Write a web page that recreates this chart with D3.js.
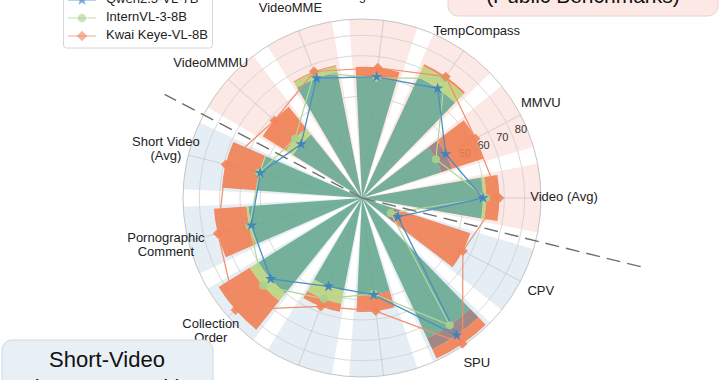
<!DOCTYPE html>
<html><head><meta charset="utf-8">
<script src="https://cdn.jsdelivr.net/npm/d3@7"></script>
<style>
body{margin:0;background:#fff;}
svg{display:block;font-family:"Liberation Sans",Arial,Helvetica,sans-serif;}
</style>
</head><body>
<svg id="c" width="720" height="380"></svg>
<script>
// ---- data ----
const categories = ["Video (Avg)", "CPV", "SPU", "High Like", "Hot Videos", "Collection\nOrder",
  "Pornographic\nComment", "Short Video\n(Avg)", "VideoMMMU", "VideoMME", "LongVideoBench", "TempCompass", "MMVU"];
const groups = ["public","short","short","short","short","short","short","short","public","public","public","public","public"];
const seriesNames = ["Qwen2.5-VL-7B", "InternVL-3-8B", "Kwai Keye-VL-8B"];
const qwen     = [59.5, 20, 82, 48, 46.5, 60, 56, 51.5, 40, 63, 60, 65.5, 46.5];
const internvl = [61,   16, 76, 47.5, 53, 65, 57, 52,   44, 66, 59.5, 71.5, 41];
const keye     = [67.5, 56, 87, 56,   57, 83, 73, 69,   57.5, 66.5, 64.5, 72.5, 63];
const radialTicks = [50, 60, 70, 80];
const groupTitles = ["(Public Benchmarks)", "Short-Video", "(KC-MMBench)"];

// ---- layout ----
const svg = d3.select("#c");
const cx = 362, cy = 198, R = 179;
const n = categories.length;
const step = 2 * Math.PI / n;
const angle = i => Math.PI / 2 + i * step;
const r = d3.scaleLinear().domain([0, 88]).range([0, R]);
const px = (a, rr) => rr * Math.sin(a);
const py = (a, rr) => -rr * Math.cos(a);

const g = svg.append("g").attr("transform", `translate(${cx},${cy})`);

// background wedges
const arc = d3.arc();
g.selectAll("path.bg").data(categories).join("path").attr("class", "bg")
  .attr("d", (d, i) => arc({innerRadius: 0, outerRadius: R, startAngle: angle(i) - 0.4 * step, endAngle: angle(i) + 0.4 * step}))
  .attr("fill", (d, i) => groups[i] === "public" ? "#fce8e4" : "#e6eef5");

// grid circles
g.selectAll("circle.grid").data(radialTicks).join("circle").attr("class", "grid")
  .attr("r", d => r(d)).attr("fill", "none").attr("stroke", "#cfcfcf").attr("stroke-width", 0.8);
// spokes
g.selectAll("line.spoke").data(categories).join("line").attr("class", "spoke")
  .attr("x1", 0).attr("y1", 0)
  .attr("x2", (d, i) => px(angle(i), R)).attr("y2", (d, i) => py(angle(i), R))
  .attr("stroke", "#c8c8c8").attr("stroke-width", 0.8);
// outer circle
g.append("circle").attr("r", R).attr("fill", "none").attr("stroke", "#c4c4c4").attr("stroke-width", 1);

// radial tick labels
const tickAngle = 67 * Math.PI / 180;
g.selectAll("text.tick").data(radialTicks).join("text").attr("class", "tick")
  .attr("x", d => px(tickAngle, r(d) + 10)).attr("y", d => py(tickAngle, r(d) + 10))
  .attr("text-anchor", "middle").attr("dominant-baseline", "middle")
  .attr("font-size", 11).attr("fill", "#333").text(d => d);

// bars (overlapping translucent bars -> layered colour bands)
const models = [{k: "Q", vals: qwen}, {k: "I", vals: internvl}, {k: "K", vals: keye}];
const setColor = {"IKQ": "#68a991", "KQ": "#9a7b7b", "IK": "#bdd47c", "K": "#f07e52",
  "IQ": "#84bb9e", "I": "#cde3a4", "Q": "#8ab0cf"};
const barG = g.append("g").attr("fill-opacity", 0.9);
categories.forEach((c, i) => {
  const vs = models.map(m => ({k: m.k, v: m.vals[i]})).sort((a, b) => a.v - b.v);
  let prev = 0;
  vs.forEach((d, j) => {
    const cover = vs.slice(j).map(x => x.k).sort().join("");
    if (d.v > prev) {
      barG.append("path")
        .attr("d", arc({innerRadius: r(prev), outerRadius: r(d.v), startAngle: angle(i) - 0.35 * step, endAngle: angle(i) + 0.35 * step}))
        .attr("fill", setColor[cover]);
    }
    prev = d.v;
  });
});

// lines
const line = d3.lineRadial().angle((d, i) => angle(i)).radius(d => r(d)).curve(d3.curveLinearClosed);
const styles = [
  {vals: qwen, stroke: "#4a8fc4", fill: "#3b7fbf", sym: d3.symbolStar, size: 40, rot: 0, w: 1.3},
  {vals: internvl, stroke: "#b2d69a", fill: "#a8d18c", sym: d3.symbolCircle, size: 52, rot: 0, w: 1.2},
  {vals: keye, stroke: "#f08e6c", fill: "#f0855c", sym: d3.symbolSquare, size: 50, rot: 45, w: 1.2}
];
[1, 2, 0].forEach(si => {
  const s = styles[si];
  g.append("path").attr("d", line(s.vals)).attr("fill", "none").attr("stroke", s.stroke).attr("stroke-width", s.w);
});
[1, 2, 0].forEach(si => {
  const s = styles[si];
  g.selectAll(null).data(s.vals).join("path")
    .attr("d", d3.symbol().type(s.sym).size(s.size))
    .attr("transform", (d, i) => `translate(${px(angle(i), r(d))},${py(angle(i), r(d))}) rotate(${s.rot})`)
    .attr("fill", s.fill).attr("fill-opacity", 0.9);
});

// dashed group dividers
const div1 = angle(0) + step / 2, div2 = angle(7) + step / 2;
[[div1, 289], [div2, 223]].forEach(([a, len]) => {
  g.append("line").attr("x1", 0).attr("y1", 0).attr("x2", px(a, len)).attr("y2", py(a, len))
    .attr("stroke", "#6e6e6e").attr("stroke-width", 1.4).attr("stroke-dasharray", "14,7");
});

// category labels
categories.forEach((c, i) => {
  const a = angle(i), lr = 202;
  const lines = c.split("\n");
  const t = g.append("text").attr("text-anchor", "middle").attr("font-size", 13).attr("fill", "#222")
    .attr("x", px(a, lr)).attr("y", py(a, lr) - (lines.length - 1) * 7).attr("dominant-baseline", "middle");
  lines.forEach((l, k) => t.append("tspan").attr("x", px(a, lr)).attr("dy", k === 0 ? 0 : 14).text(l));
});

// legend
const lg = svg.append("g");
lg.append("rect").attr("x", 63.5).attr("y", -40).attr("width", 149).attr("height", 88).attr("rx", 3)
  .attr("fill", "#fff").attr("fill-opacity", 0.9).attr("stroke", "#d6d6d6");
const legY = [0, 18, 36];
[0, 1, 2].forEach(si => {
  const s = styles[si], y = legY[si];
  lg.append("line").attr("x1", 68).attr("x2", 96).attr("y1", y).attr("y2", y)
    .attr("stroke", s.stroke).attr("stroke-width", 1.3).attr("stroke-opacity", 0.6);
  lg.append("path").attr("d", d3.symbol().type(s.sym).size(s.size * 1.1)())
    .attr("transform", `translate(82,${y}) rotate(${s.rot})`).attr("fill", s.fill).attr("fill-opacity", 0.6);
  lg.append("text").attr("x", 106).attr("y", y).attr("dominant-baseline", "middle")
    .attr("font-size", 13).attr("fill", "#222").text(seriesNames[si]);
});

// group title boxes
svg.append("rect").attr("x", 448).attr("y", -40).attr("width", 270).attr("height", 56).attr("rx", 10)
  .attr("fill", "#fce9e6").attr("stroke", "#e8d2ce");
svg.append("text").attr("x", 583).attr("y", 3).attr("text-anchor", "middle").attr("font-size", 21)
  .attr("fill", "#111").text(groupTitles[0]);
svg.append("rect").attr("x", 2).attr("y", 340).attr("width", 211).attr("height", 80).attr("rx", 10)
  .attr("fill", "#e9f0f5").attr("stroke", "#cdd8e0");
svg.append("text").attr("x", 107).attr("y", 367).attr("text-anchor", "middle").attr("font-size", 22)
  .attr("fill", "#111").text(groupTitles[1]);
svg.append("text").attr("x", 107).attr("y", 395).attr("text-anchor", "middle").attr("font-size", 22)
  .attr("fill", "#111").text(groupTitles[2]);
</script>
</body></html>
